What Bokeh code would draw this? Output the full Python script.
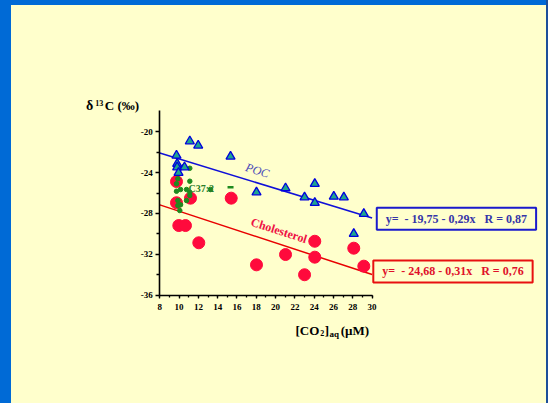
from bokeh.plotting import figure
from bokeh.models import Range1d, FixedTicker, Label
from bokeh.embed import file_html
from bokeh.resources import INLINE

# ---- data ----
poc_x = [9.73, 11.11, 11.98, 9.80, 9.80, 10.56, 9.94, 15.33, 18.02, 21.03, 23.0, 24.06, 24.06, 26.03, 27.07, 28.1, 29.14]
poc_y = [-22.32, -20.92, -21.34, -23.13, -23.47, -23.47, -24.02, -22.42, -25.92, -25.52, -26.41, -25.09, -26.95, -26.34, -26.41, -29.99, -28.03]

chol_x = [9.73, 9.73, 9.97, 10.66, 11.18, 12.04, 15.40, 18.02, 21.03, 23.0, 24.06, 24.06, 28.10, 29.14]
chol_y = [-24.87, -26.95, -29.18, -29.18, -26.50, -30.87, -26.50, -33.03, -32.02, -34.0, -30.72, -32.28, -31.40, -33.16]

c37_x = [11.11, 11.11, 9.87, 9.73, 9.73, 10.15, 10.77, 11.11, 11.11, 9.87, 9.87, 10.15, 10.77, 10.07, 13.25, 10.49]
c37_y = [-23.57, -24.84, -24.60, -25.09, -25.82, -25.65, -25.65, -25.92, -26.24, -26.73, -27.22, -27.15, -26.73, -27.71, -25.65, -23.40]
c37_dash_x = [15.33]
c37_dash_y = [-25.43]

poc_fit = (-19.75, -0.29)
chol_fit = (-24.68, -0.31)
fit_x = [8, 30]

x_bounds = (8, 30)
y_bounds = (-36, -17.88)
x_ticks = [8, 10, 12, 14, 16, 18, 20, 22, 24, 26, 28, 30]
x_minor = list(range(8, 31))
y_ticks = [-20, -24, -28, -32, -36]
y_minor = [-22, -26, -30, -34]

poc_eq = "y=\u00a0\u00a0- 19,75 - 0,29x\u00a0\u00a0\u00a0R = 0,87"
chol_eq = "y=\u00a0\u00a0- 24,68 - 0,31x\u00a0\u00a0\u00a0R = 0,76"

SERIF = "Liberation Serif"

# The frame covers almost the whole slide; the axes are pinned at x=8 / y=-36
p = figure(frame_width=503, frame_height=353,
           min_border_left=40, min_border_right=5,
           min_border_top=10, min_border_bottom=40,
           x_range=Range1d(-4.3627, 47.7617), y_range=Range1d(-42.693, -8.119),
           output_backend="svg", toolbar_location=None)
p.background_fill_alpha = 0
p.border_fill_alpha = 0
p.outline_line_color = None
p.grid.visible = False

p.xaxis.fixed_location = y_bounds[0]
p.yaxis.fixed_location = x_bounds[0]
p.xaxis.bounds = x_bounds
p.yaxis.bounds = y_bounds

for ax in (p.xaxis[0], p.yaxis[0]):
    ax.axis_line_color = "black"
    ax.axis_line_width = 1.6
    ax.major_tick_in = 0
    ax.minor_tick_in = 0
    ax.major_tick_line_color = "black"
    ax.minor_tick_line_color = "black"
    ax.major_tick_line_width = 1.3
    ax.minor_tick_line_width = 1.3
    ax.major_label_text_font = SERIF
    ax.major_label_text_font_style = "bold"
    ax.major_label_text_font_size = "9px"
    ax.major_label_text_color = "black"
    try:
        ax.major_label_background_fill_color = "white"
    except Exception:
        pass

p.xaxis.ticker = FixedTicker(ticks=x_ticks, minor_ticks=x_minor)
p.yaxis.ticker = FixedTicker(ticks=y_ticks, minor_ticks=y_minor)
p.xaxis.major_tick_out = 3
p.xaxis.minor_tick_out = 2
p.yaxis.major_tick_out = 4
p.yaxis.minor_tick_out = 3
p.xaxis.major_label_standoff = 6
p.yaxis.major_label_standoff = 3
p.yaxis.major_label_overrides = {t: "%d" % t for t in y_ticks}

# regression lines
p.line(fit_x, [poc_fit[0] + poc_fit[1] * x for x in fit_x], line_color="#1010d8", line_width=1.5)
p.line(fit_x, [chol_fit[0] + chol_fit[1] * x for x in fit_x], line_color="#e80000", line_width=1.5)

# points
p.scatter(chol_x, chol_y, marker="circle", size=12, fill_color="#ff0a3c", line_color="#ff0a3c")
p.scatter(c37_x, c37_y, marker="circle", size=4.5, fill_color="#1e8a1e", line_color="#1e8a1e")
p.scatter(c37_dash_x, c37_dash_y, marker="dash", size=6, line_color="#1e8a1e", line_width=2.5)
p.scatter(poc_x, poc_y, marker="triangle", size=9, fill_color="#1fa58f", line_color="#0000dd", line_width=1.3)

# in-plot labels
p.add_layout(Label(x=18.12, y=-23.79, text="POC", angle=-0.30, text_align="center",
                   text_baseline="middle", text_font=SERIF, text_font_style="italic",
                   text_font_size="12px", text_color="#4b4bb8"))
p.add_layout(Label(x=20.35, y=-29.67, text="Cholesterol", angle=-0.31, text_align="center",
                   text_baseline="middle", text_font=SERIF, text_font_style="bold",
                   text_font_size="12px", text_color="#ee1144"))
p.add_layout(Label(x=10.97, y=-25.55, text="C37:2", text_align="left",
                   text_baseline="middle", text_font=SERIF, text_font_style="bold",
                   text_font_size="10px", text_color="#2a7d2a"))

# equation boxes
box_pad = dict(left=9, right=9, top=4, bottom=4)
p.add_layout(Label(x=38.74, y=-28.52, text=poc_eq, text_align="center", text_baseline="middle",
                   text_font=SERIF, text_font_style="bold", text_font_size="12px",
                   text_color="#3535a8", border_line_color="#1a1acc", border_line_width=2,
                   background_fill_color="#ffffcc", padding=box_pad))
p.add_layout(Label(x=38.38, y=-33.68, text=chol_eq, text_align="center", text_baseline="middle",
                   text_font=SERIF, text_font_style="bold", text_font_size="12px",
                   text_color="#e0102a", border_line_color="#e81010", border_line_width=2,
                   background_fill_color="#ffffcc", padding=box_pad))

# y-axis title (horizontal, above the axis)
p.add_layout(Label(x=0.35, y=-17.45, text="\u03b4", text_align="left", text_baseline="middle",
                   text_font=SERIF, text_font_style="bold", text_font_size="14px", text_color="black"))
p.add_layout(Label(x=1.30, y=-17.15, text="13", text_align="left", text_baseline="middle",
                   text_font=SERIF, text_font_style="bold", text_font_size="8px", text_color="black"))
p.add_layout(Label(x=2.30, y=-17.45, text="C (\u2030)", text_align="left", text_baseline="middle",
                   text_font=SERIF, text_font_style="bold", text_font_size="13px", text_color="black"))

# x-axis title
xl_y = -39.5
p.add_layout(Label(x=22.06, y=xl_y, text="[CO", text_align="left", text_baseline="middle",
                   text_font=SERIF, text_font_style="bold", text_font_size="13px", text_color="black"))
p.add_layout(Label(x=24.62, y=xl_y - 0.25, text="2", text_align="left", text_baseline="middle",
                   text_font=SERIF, text_font_style="bold", text_font_size="8px", text_color="black"))
p.add_layout(Label(x=25.10, y=xl_y, text="]", text_align="left", text_baseline="middle",
                   text_font=SERIF, text_font_style="bold", text_font_size="13px", text_color="black"))
p.add_layout(Label(x=25.58, y=xl_y - 0.35, text="aq", text_align="left", text_baseline="middle",
                   text_font=SERIF, text_font_style="bold", text_font_size="9px", text_color="black"))
p.add_layout(Label(x=26.75, y=xl_y, text="(\u00b5M)", text_align="left", text_baseline="middle",
                   text_font=SERIF, text_font_style="bold", text_font_size="13px", text_color="black"))

html = file_html(p, INLINE)
style = ("<style>html{min-height:100%;background:"
         "linear-gradient(to right,#006ad6 0,#006ad6 11px,transparent 11px,transparent 546px,#1d4f9a 546px,#1d4f9a 548px,transparent 548px),"
         "linear-gradient(to bottom,#006ad6 0,#006ad6 5px,#ffffcc 5px);}"
         "body{background:transparent;}</style>")
html = html.replace("</head>", style + "</head>", 1)
open("out.html", "w").write(html)
